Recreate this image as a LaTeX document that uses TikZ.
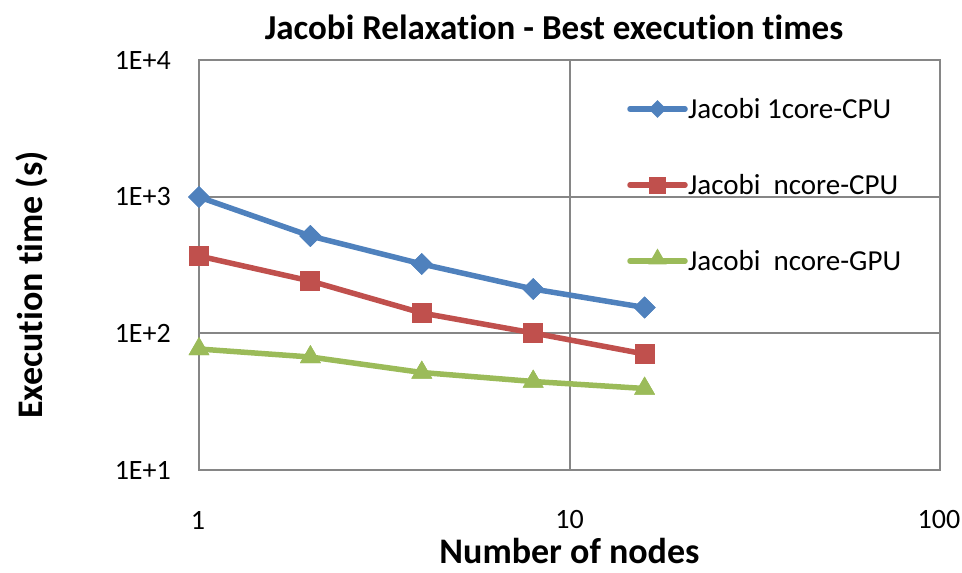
\documentclass[tikz,border=0pt]{standalone}
\usepackage{fontspec}
\setmainfont{Carlito}[Ligatures=CommonOff]
\usetikzlibrary{shapes.geometric}
\definecolor{cblue}{HTML}{4F81BD}
\definecolor{cred}{HTML}{C0504D}
\definecolor{cgreen}{HTML}{9BBB59}
\definecolor{cgrid}{HTML}{868686}
\begin{document}
\begin{tikzpicture}[x=1pt,y=-1pt,
  grid/.style={draw=cgrid,line width=2pt},
  ticklab/.style={font=\fontsize{28}{32}\selectfont,inner sep=0pt},
  axtitle/.style={font=\fontsize{36}{40}\selectfont\bfseries,inner sep=0pt},
  legtext/.style={font=\fontsize{29}{34}\selectfont,inner sep=0pt,anchor=west},
  sblue/.style={draw=cblue,line width=5.5pt,line join=round},
  sred/.style={draw=cred,line width=5.5pt,line join=round},
  sgreen/.style={draw=cgreen,line width=5.5pt,line join=round},
  mdia/.style={diamond,fill=cblue,inner sep=0pt,minimum size=22pt},
  msq/.style={rectangle,fill=cred,inner sep=0pt,minimum size=20pt},
  mtri/.style={regular polygon,regular polygon sides=3,fill=cgreen,inner sep=0pt,minimum size=24pt},
]
\useasboundingbox (0,0) rectangle (962,573);
% grid and frame
\draw[grid] (199,60) rectangle (940,470);
\draw[grid] (199,196.7) -- (940,196.7);
\draw[grid] (199,333.3) -- (940,333.3);
\draw[grid] (569.5,60) -- (569.5,470);
% y tick labels
\node[ticklab,anchor=east] (y4) at (171,60) {1E+4};
\node[ticklab,anchor=east] (y3) at (171,196.7) {1E+3};
\node[ticklab,anchor=east] (y2) at (171,333.3) {1E+2};
\node[ticklab,anchor=east] (y1) at (171,470) {1E+1};
% x tick labels
\node[ticklab] (x1) at (198,520) {1};
\node[ticklab] (x10) at (569.5,520) {10};
\node[ticklab] (x100) at (939,520) {100};
% titles
\node[font=\fontsize{35}{40}\selectfont\bfseries,inner sep=0pt] (title) at (554,27) {Jacobi Relaxation - Best execution times};
\node[axtitle] (xt) at (569.5,551) {Number of nodes};
\node[axtitle,rotate=90] (yt) at (32,285) {Execution time (s)};
% data: blue
\node[mdia] (b1) at (199,197) {};
\node[mdia] (b2) at (310.4,236) {};
\node[mdia] (b4) at (421.8,264) {};
\node[mdia] (b8) at (533.2,289) {};
\node[mdia] (b16) at (644.6,307.5) {};
% red
\node[msq] (r1) at (199,256) {};
\node[msq] (r2) at (310.4,281) {};
\node[msq] (r4) at (421.8,313) {};
\node[msq] (r8) at (533.2,333) {};
\node[msq] (r16) at (644.6,354) {};
% green
\node[mtri] (g1) at (199,349) {};
\node[mtri] (g2) at (310.4,357) {};
\node[mtri] (g4) at (421.8,372.5) {};
\node[mtri] (g8) at (533.2,381.5) {};
\node[mtri] (g16) at (644.6,388.5) {};
\draw[sblue] (b1.center) -- (b2.center) -- (b4.center) -- (b8.center) -- (b16.center);
\draw[sred] (r1.center) -- (r2.center) -- (r4.center) -- (r8.center) -- (r16.center);
\draw[sgreen] (g1.center) -- (g2.center) -- (g4.center) -- (g8.center) -- (g16.center);
\foreach \n in {b1,b2,b4,b8,b16}{\node[mdia] at (\n) {};}
\foreach \n in {r1,r2,r4,r8,r16}{\node[msq] at (\n) {};}
\foreach \n in {g1,g2,g4,g8,g16}{\node[mtri] at (\n) {};}
% legend
\coordinate (lb0) at (630,109); \coordinate (lb1) at (685,109);
\coordinate (lr0) at (630,185); \coordinate (lr1) at (685,185);
\coordinate (lg0) at (630,261); \coordinate (lg1) at (685,261);
\draw[sblue,line cap=round] (lb0) -- (lb1);
\draw[sred,line cap=round] (lr0) -- (lr1);
\draw[sgreen,line cap=round] (lg0) -- (lg1);
\node[mdia,minimum size=18pt] (lbm) at (657.5,109) {};
\node[msq,minimum size=17pt] (lrm) at (657.5,185) {};
\node[mtri,minimum size=21pt] (lgm) at (657.5,259) {};
\node[legtext] (lbt) at (688,109) {Jacobi 1core-CPU};
\node[legtext] (lrt) at (688,185) {Jacobi\ \ ncore-CPU};
\node[legtext] (lgt) at (688,261) {Jacobi\ \ ncore-GPU};
\end{tikzpicture}
\end{document}
